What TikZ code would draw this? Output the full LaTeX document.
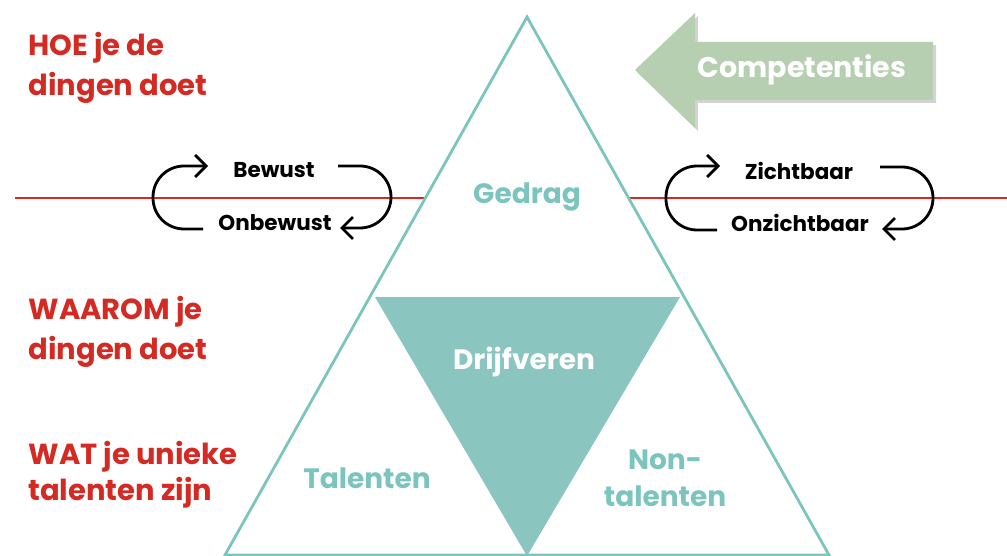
\documentclass[tikz,border=0pt]{standalone}
\usepackage{fontspec}
\setmainfont{Poppins}
\usetikzlibrary{arrows.meta,shadows}

\definecolor{pyrline}{HTML}{7CC4BE}
\definecolor{pyrfill}{HTML}{8BC5C0}
\definecolor{pyrred}{HTML}{D42A24}
\definecolor{pyrgreen}{HTML}{B6CFB1}

\tikzset{
  redtxt/.style={text=pyrred, anchor=west, align=left,
    font=\bfseries\fontsize{29}{40}\selectfont},
  looptxt/.style={font=\bfseries\fontsize{21.5}{22}\selectfont},
  pyrtxt/.style={text=pyrline, align=center,
    font=\bfseries\fontsize{28}{37}\selectfont},
  cyclearrow/.style={line width=2.8pt, rounded corners=31pt,
    -{Straight Barb[length=11pt,width=22pt]}},
}

\begin{document}
\begin{tikzpicture}[x=1pt,y=-1pt]
  \useasboundingbox (0,0) rectangle (1007,556);

  % red divider
  \draw[pyrred, line width=2.2pt] (15,198) -- (425,198);
  \draw[pyrred, line width=2.2pt] (628,198) -- (1007,198);

  % pyramid
  \coordinate (top) at (527,17);
  \coordinate (bl) at (225,555);
  \coordinate (br) at (829,555);
  \fill[pyrfill] (375,297) -- (680,297) -- (527,556) -- cycle;
  \draw[pyrline, line width=2.8pt, line join=miter] (top) -- (bl) -- (br) -- cycle;

  \node[pyrtxt] (gedrag) at (527,197) {Gedrag};
  \node[pyrtxt, text=white] (drijf) at (524,362) {Drijfveren};
  \node[pyrtxt] (talent) at (367,478) {Talenten};
  \node[pyrtxt] (nontal) at (665,478) {Non-\\talenten};

  % competenties arrow
  \fill[pyrgreen, drop shadow={shadow xshift=3pt, shadow yshift=-3pt, opacity=0.35}]
    (635,70) -- (695,13) -- (695,42) -- (933,42) -- (933,100)
    -- (695,100) -- (695,128) -- cycle;
  \node[text=white, font=\bfseries\fontsize{28.5}{30}\selectfont] (comp) at (802,70) {Competenties};

  % left texts
  \node[redtxt] (hoe) at (25,68) {HOE je de\\dingen doet};
  \node[redtxt] (waarom) at (25,332) {WAAROM je\\dingen doet};
  \node[redtxt] (wat) at (25,475) {WAT je unieke\\[-4pt]talenten zijn};

  % bewust loop
  \node[looptxt] (bew) at (274,170) {Bewust};
  \node[looptxt] (onb) at (275,223) {Onbewust};
  \coordinate (b1) at (338,166);
  \coordinate (b2) at (340,228);
  \coordinate (b3) at (203,229);
  \coordinate (b4) at (208,166);
  \draw[cyclearrow] (b1) -- ++(53,0) -- ++(0,62) -- (b2);
  \draw[cyclearrow] (b3) -- ++(-50,0) -- ++(0,-63) -- (b4);

  % zichtbaar loop
  \node[looptxt] (zicht) at (799,171) {Zichtbaar};
  \node[looptxt] (onz) at (800,223) {Onzichtbaar};
  \coordinate (z1) at (880,167);
  \coordinate (z2) at (882,229);
  \coordinate (z3) at (717,230);
  \coordinate (z4) at (720,166);
  \draw[cyclearrow] (z1) -- ++(53,0) -- ++(0,62) -- (z2);
  \draw[cyclearrow] (z3) -- ++(-51,0) -- ++(0,-64) -- (z4);
\end{tikzpicture}
\end{document}
